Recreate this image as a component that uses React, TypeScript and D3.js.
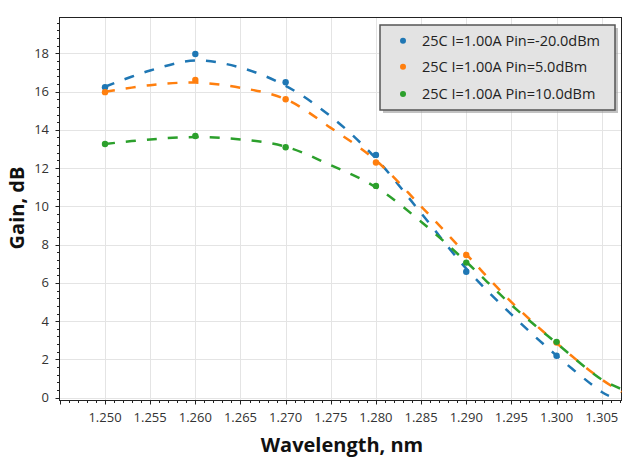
import React from "react";
import * as d3 from "d3";

// measured points
const wavelengths = [1.25, 1.26, 1.27, 1.28, 1.29, 1.3];
const gainPinM20 = [16.23, 17.96, 16.49, 12.69, 6.58, 2.19];
const gainPin5 = [15.97, 16.61, 15.6, 12.29, 7.46, 2.88];
const gainPin10 = [13.26, 13.68, 13.09, 11.07, 7.06, 2.92];

// fitted curves
const fitWlM20 = [1.25, 1.255, 1.26, 1.265, 1.27, 1.275, 1.28, 1.285, 1.29, 1.295, 1.3, 1.305, 1.3058];
const fitM20 = [16.25, 17.1, 17.62, 17.25, 16.3, 14.7, 12.5, 9.65, 6.75, 4.35, 2.2, 0.3, 0.1];
const fitWl = [1.25, 1.255, 1.26, 1.265, 1.27, 1.275, 1.28, 1.285, 1.29, 1.295, 1.3, 1.305, 1.3072];
const fitPin5 = [15.99, 16.33, 16.47, 16.2, 15.6, 14.1, 12.4, 10.0, 7.5, 5.0, 2.85, 0.95, 0.3];
const fitPin10 = [13.26, 13.5, 13.62, 13.5, 13.12, 12.15, 11.0, 9.2, 7.1, 4.85, 2.85, 0.95, 0.45];

const seriesNames = [
	"25C I=1.00A Pin=-20.0dBm",
	"25C I=1.00A Pin=5.0dBm",
	"25C I=1.00A Pin=10.0dBm",
];
const seriesColors = ["#1f77b4", "#ff7f0e", "#2ca02c"];

const xTicks = [1.25, 1.255, 1.26, 1.265, 1.27, 1.275, 1.28, 1.285, 1.29, 1.295, 1.3, 1.305];
const yTicks = [0, 2, 4, 6, 8, 10, 12, 14, 16, 18];

const FONT = "'Open Sans', 'Noto Sans', sans-serif";

class App extends React.Component<{}, {}> {
	myRef: React.RefObject<HTMLDivElement>;
	drawn: boolean = false;

	constructor(props: {}) {
		super(props);
		this.myRef = React.createRef();
	}

	componentDidMount() {
		if (this.drawn) {
			return;
		}
		this.drawn = true;

		const width = 640;
		const height = 465;
		const left = 59.5, right = 621.5, top = 17.5, bottom = 400.5;

		const svg = d3.select(this.myRef.current)
			.append("svg")
			.attr("width", width)
			.attr("height", height)
			.style("position", "absolute")
			.style("left", "0px")
			.style("top", "0px")
			.style("font-family", FONT);

		svg.append("rect").attr("width", width).attr("height", height).attr("fill", "#ffffff");

		const x = d3.scaleLinear().domain([1.24496, 1.30719]).range([left, right]);
		const y = d3.scaleLinear().domain([-0.146, 19.87]).range([bottom, top]);

		// grid
		const grid = svg.append("g").attr("stroke", "#e4e4e4").attr("stroke-width", 1);
		grid.selectAll("line.v")
			.data(xTicks)
			.enter()
			.append("line")
			.attr("x1", (d) => Math.round(x(d)) + 0.5)
			.attr("x2", (d) => Math.round(x(d)) + 0.5)
			.attr("y1", top)
			.attr("y2", bottom);
		grid.selectAll("line.h")
			.data(yTicks)
			.enter()
			.append("line")
			.attr("y1", (d) => Math.round(y(d)) + 0.5)
			.attr("y2", (d) => Math.round(y(d)) + 0.5)
			.attr("x1", left)
			.attr("x2", right);

		// minor / major ticks
		const xMinor = d3.range(1245, 1308).map((v) => v / 1000);
		const yMinor = d3.range(0, 50).map((v) => v * 0.4);
		const ticks = svg.append("g").attr("stroke", "#222").attr("stroke-width", 1);
		ticks.selectAll("line.xm")
			.data(xMinor)
			.enter()
			.append("line")
			.attr("x1", (d) => Math.round(x(d)) + 0.5)
			.attr("x2", (d) => Math.round(x(d)) + 0.5)
			.attr("y1", bottom)
			.attr("y2", (d) => bottom + (Math.abs(d * 200 - Math.round(d * 200)) < 1e-6 ? 4 : 2.5));
		ticks.selectAll("line.ym")
			.data(yMinor)
			.enter()
			.append("line")
			.attr("y1", (d) => Math.round(y(d)) + 0.5)
			.attr("y2", (d) => Math.round(y(d)) + 0.5)
			.attr("x1", left)
			.attr("x2", (d) => left - (Math.abs(d / 2 - Math.round(d / 2)) < 1e-6 ? 4 : 2.5));

		// tick labels
		svg.append("g")
			.selectAll("text")
			.data(xTicks)
			.enter()
			.append("text")
			.attr("x", (d) => x(d))
			.attr("y", 421.5)
			.attr("text-anchor", "middle")
			.attr("font-size", 13)
			.attr("fill", "#333")
			.text((d) => d3.format(".3f")(d));
		svg.append("g")
			.selectAll("text")
			.data(yTicks)
			.enter()
			.append("text")
			.attr("x", 49)
			.attr("y", (d) => y(d))
			.attr("dy", "0.35em")
			.attr("text-anchor", "end")
			.attr("font-size", 13)
			.attr("fill", "#333")
			.text((d) => d);

		// frame
		svg.append("rect")
			.attr("x", left)
			.attr("y", top)
			.attr("width", right - left)
			.attr("height", bottom - top)
			.attr("fill", "none")
			.attr("stroke", "#222")
			.attr("stroke-width", 1);

		// axis titles
		svg.append("text")
			.attr("x", 342)
			.attr("y", 451.5)
			.attr("text-anchor", "middle")
			.attr("font-size", 20)
			.attr("font-weight", "bold")
			.attr("fill", "#111")
			.text("Wavelength, nm");
		svg.append("text")
			.attr("transform", "translate(24, 208) rotate(-90)")
			.attr("text-anchor", "middle")
			.attr("font-size", 20)
			.attr("font-weight", "bold")
			.attr("fill", "#111")
			.text("Gain, dB");

		// series
		const fits = [
			{ xs: fitWlM20, ys: fitM20 },
			{ xs: fitWl, ys: fitPin5 },
			{ xs: fitWl, ys: fitPin10 },
		];
		const points = [gainPinM20, gainPin5, gainPin10];
		const line = d3.line<[number, number]>()
			.x((d) => x(d[0]))
			.y((d) => y(d[1]))
			.curve(d3.curveCatmullRom.alpha(0.5));

		const plot = svg.append("g");
		fits.forEach((f, i) => {
			const pts: [number, number][] = f.xs.map((v, k) => [v, f.ys[k]]);
			const g = plot.append("g");
			g.selectAll("circle")
				.data(points[i])
				.enter()
				.append("circle")
				.attr("cx", (_d, k) => x(wavelengths[k]))
				.attr("cy", (d) => y(d))
				.attr("r", 3.2)
				.attr("fill", seriesColors[i]);
			g.append("path")
				.attr("d", line(pts) as string)
				.attr("fill", "none")
				.attr("stroke", seriesColors[i])
				.attr("stroke-width", 2.5)
				.attr("stroke-dasharray", "10,11");
		});

		// legend
		const lg = svg.append("g").attr("transform", "translate(380, 25)");
		lg.append("rect")
			.attr("x", 3)
			.attr("y", 3)
			.attr("width", 235)
			.attr("height", 85)
			.attr("fill", "#9a9a9a")
			.attr("opacity", 0.6);
		lg.append("rect")
			.attr("width", 235)
			.attr("height", 85)
			.attr("fill", "#e3e3e3")
			.attr("stroke", "#555")
			.attr("stroke-width", 1.5);
		const rows = lg.selectAll("g.row")
			.data(seriesNames)
			.enter()
			.append("g")
			.attr("transform", (_d, i) => `translate(0, ${[15.7, 41.7, 69][i]})`);
		rows.append("circle")
			.attr("cx", 23)
			.attr("cy", 0)
			.attr("r", 3)
			.attr("fill", (_d, i) => seriesColors[i]);
		rows.append("text")
			.attr("x", 42)
			.attr("y", 0)
			.attr("dy", "0.35em")
			.attr("font-size", 14.5)
			.attr("fill", "#222")
			.text((d) => d);
	}

	render() {
		return <div ref={this.myRef} />;
	}
}

export default App;
